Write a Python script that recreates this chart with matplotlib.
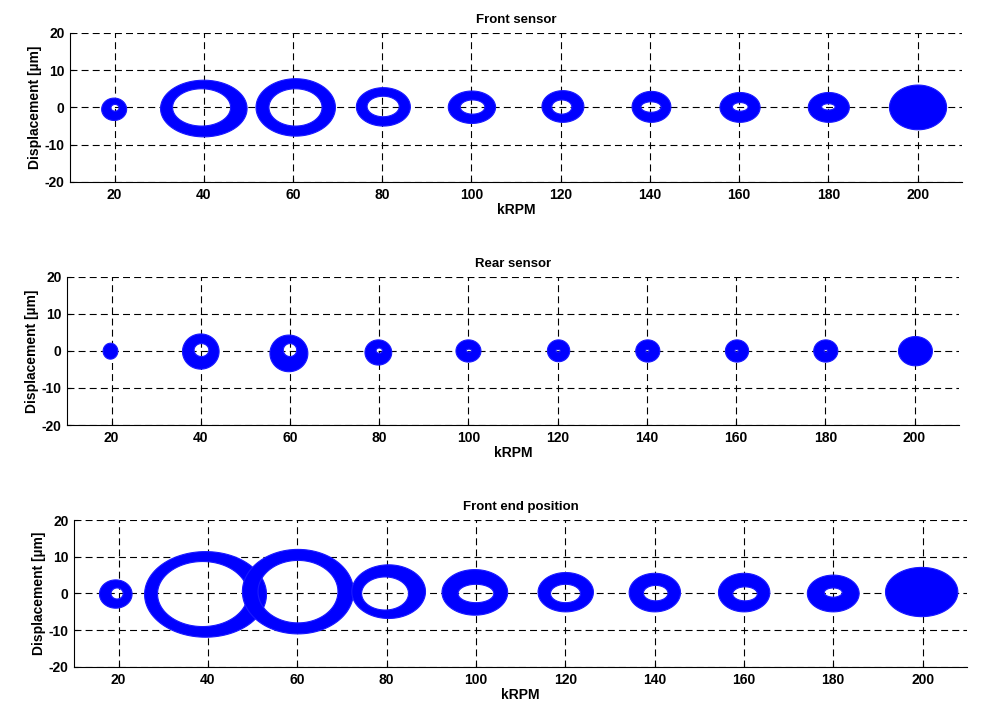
import numpy as np
import matplotlib
matplotlib.use("Agg")
import matplotlib.pyplot as plt
from matplotlib.path import Path
from matplotlib.patches import PathPatch

# === Datos ===
krpm_ticks = [20, 40, 60, 80, 100, 120, 140, 160, 180, 200]
disp_ticks = [-20, -10, 0, 10, 20]
titulos = ["Front sensor", "Rear sensor", "Front end position"]

# orbita exterior: (x_min, x_max, y_min, y_max)  [kRPM, um]
front_outer = [(17.1, 22.7, -3.5, 2.5), (30.3, 49.7, -7.9, 7.3), (51.7, 69.5, -7.7, 7.7),
               (74.2, 86.3, -5.0, 5.3), (94.8, 105.4, -4.3, 4.4), (115.8, 125.2, -4.0, 4.5),
               (136.0, 144.7, -4.0, 4.3), (155.7, 164.7, -4.0, 4.0), (175.5, 184.7, -4.0, 4.0),
               (193.7, 206.5, -6.0, 6.0)]
front_inner = [(19.2, 21.0, -1.0, 0.8), (33.0, 46.0, -5.0, 5.0), (54.6, 66.5, -5.0, 5.0),
               (76.6, 83.8, -2.5, 3.0), (97.5, 103.0, -1.8, 2.0), (118.0, 122.5, -1.8, 2.0),
               (138.0, 142.5, -1.3, 1.5), (158.5, 162.0, -1.0, 1.3), (178.5, 181.5, -0.7, 1.0),
               None]

rear_outer = [(18.1, 21.4, -2.2, 2.1), (35.9, 44.1, -4.9, 4.6), (55.5, 64.0, -5.6, 4.3),
              (76.8, 82.8, -3.8, 3.0), (97.2, 102.8, -3.0, 3.0), (117.7, 122.7, -2.9, 3.0),
              (137.5, 142.9, -3.0, 3.0), (157.6, 162.8, -3.0, 3.0), (177.4, 182.8, -3.0, 3.0),
              (196.4, 204.0, -4.0, 3.9)]
rear_inner = [None, (38.5, 41.8, -1.5, 2.0), (58.5, 61.5, -1.5, 2.0),
              (79.3, 80.7, -0.6, 0.8), (99.5, 100.7, -0.3, 0.5), (119.6, 120.6, -0.3, 0.4),
              (139.7, 140.5, -0.3, 0.4), (159.7, 160.5, -0.3, 0.4), (179.7, 180.5, -0.3, 0.4),
              None]

end_outer = [(15.7, 23.0, -4.0, 3.7), (25.8, 53.1, -11.9, 11.4), (47.7, 72.6, -11.0, 12.0),
             (72.2, 88.7, -6.8, 7.8), (92.4, 107.1, -5.9, 6.5), (113.9, 126.3, -5.0, 5.7),
             (134.3, 145.8, -5.0, 5.5), (154.3, 165.8, -5.0, 5.5), (174.2, 185.8, -5.0, 5.0),
             (191.7, 207.9, -6.3, 7.1)]
end_inner = [(18.3, 21.0, -1.5, 1.5), (28.7, 48.9, -9.0, 8.7), (51.2, 69.1, -8.0, 9.0),
             (74.4, 84.9, -4.5, 4.5), (96.0, 104.0, -2.5, 2.5), (116.7, 123.4, -2.5, 2.5),
             (137.5, 143.0, -2.0, 2.2), (157.5, 163.0, -2.0, 1.8), (178.0, 182.0, -1.0, 1.5),
             None]

panels = [(front_outer, front_inner), (rear_outer, rear_inner), (end_outer, end_inner)]

# posiciones de ejes en fraccion de figura
ax_pos = [[0.0695, 0.7437, 0.886, 0.210],
          [0.0665, 0.4014, 0.886, 0.2085],
          [0.0735, 0.0606, 0.887, 0.207]]

plt.rcParams['font.family'] = ['Liberation Sans', 'DejaVu Sans']
plt.rcParams['font.weight'] = 'bold'
plt.rcParams['lines.scale_dashes'] = False
plt.rcParams['axes.unicode_minus'] = False

t = np.linspace(0, 2 * np.pi, 121)


def ellipse_pts(box, reverse=False):
    x0, x1, y0, y1 = box
    cx, cy = (x0 + x1) / 2, (y0 + y1) / 2
    a, b = (x1 - x0) / 2, (y1 - y0) / 2
    tt = t[::-1] if reverse else t
    return np.column_stack([cx + a * np.cos(tt), cy + b * np.sin(tt)])


def orbita(ax, outer, inner):
    verts = ellipse_pts(outer)
    codes = [Path.MOVETO] + [Path.LINETO] * (len(verts) - 2) + [Path.CLOSEPOLY]
    if inner is not None:
        vin = ellipse_pts(inner, reverse=True)
        verts = np.vstack([verts, vin])
        codes = codes + [Path.MOVETO] + [Path.LINETO] * (len(vin) - 2) + [Path.CLOSEPOLY]
    patch = PathPatch(Path(verts, codes), facecolor='#0000ff', edgecolor='#1a1aff',
                      linewidth=0.8, zorder=3)
    ax.add_patch(patch)


fig = plt.figure(figsize=(10.07, 7.10), dpi=100)

for pos, titulo, (outs, ins) in zip(ax_pos, titulos, panels):
    ax = fig.add_axes(pos)
    for o, i in zip(outs, ins):
        orbita(ax, o, i)

    ax.set_xlim(10, 210)
    ax.set_ylim(-20, 20)
    ax.set_xticks(krpm_ticks)
    ax.set_yticks(disp_ticks)
    ax.grid(True, color='black', linestyle=(0, (5, 3)), linewidth=0.8)
    ax.set_axisbelow(True)
    ax.spines['top'].set_visible(False)
    ax.spines['right'].set_visible(False)
    ax.tick_params(direction='in', length=3, labelsize=10, pad=4)
    for lab in ax.get_xticklabels() + ax.get_yticklabels():
        lab.set_fontweight('bold')
    ax.set_title(titulo, fontsize=9.5, fontweight='bold', pad=7)
    ax.set_xlabel('kRPM', fontsize=10, fontweight='bold', labelpad=1)
    ax.set_ylabel('Displacement [\u00b5m]', fontsize=10, fontweight='bold', labelpad=2)

fig.savefig('out.png', dpi=100)
